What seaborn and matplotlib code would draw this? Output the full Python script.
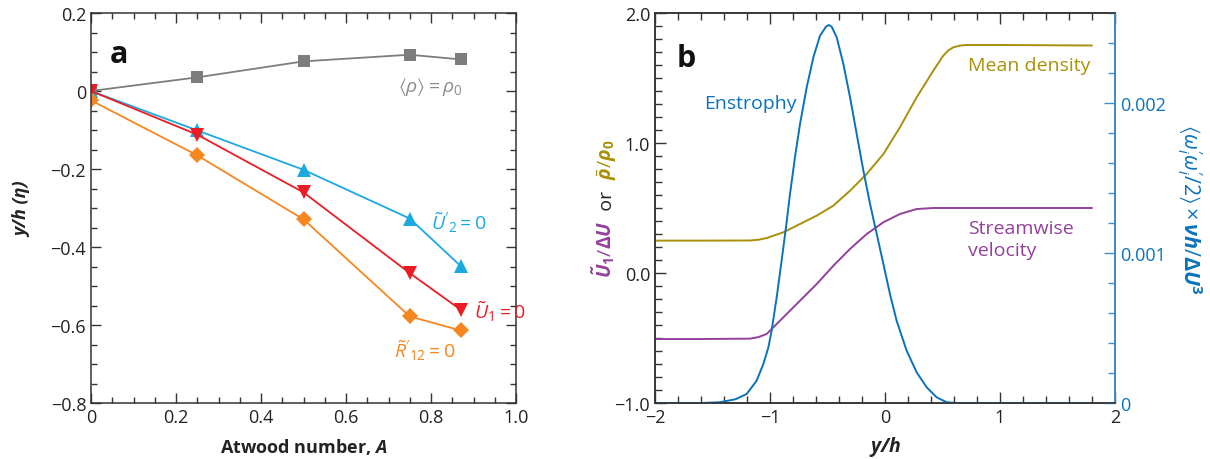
import matplotlib
matplotlib.use("Agg")
import matplotlib.pyplot as plt
from matplotlib.ticker import MultipleLocator, FixedLocator, FixedFormatter
import seaborn as sns

# ---- panel a data ----
atwood = [0.0, 0.25, 0.5, 0.75, 0.87]
rho_mean = [0.0, 0.035, 0.076, 0.093, 0.081]
u2_zero = [0.0, -0.101, -0.202, -0.327, -0.449]
u1_zero = [0.0, -0.112, -0.260, -0.467, -0.561]
r12_zero = [-0.024, -0.165, -0.329, -0.578, -0.614]

a_xticks = [0.0, 0.2, 0.4, 0.6, 0.8, 1.0]
a_xticklabels = ["0", "0.2", "0.4", "0.6", "0.8", "1.0"]
a_yticks = [-0.8, -0.6, -0.4, -0.2, 0.0, 0.2]
a_yticklabels = ["\u22120.8", "\u22120.6", "\u22120.4", "\u22120.2", "0", "0.2"]

# ---- panel b data ----
prof_y = [-2.0, -1.609, -1.174, -1.1, -1.029, -0.884, -0.739, -0.594, -0.449, -0.304,
          -0.159, -0.014, 0.13, 0.275, 0.42, 0.507, 0.55, 0.594, 0.65, 0.71, 1.0, 1.8]
density = [0.249, 0.249, 0.25, 0.256, 0.269, 0.313, 0.377, 0.441, 0.518, 0.633,
           0.762, 0.915, 1.121, 1.351, 1.556, 1.672, 1.712, 1.736, 1.749, 1.754, 1.754, 1.75]
velocity = [-0.508, -0.508, -0.505, -0.493, -0.469, -0.341, -0.213, -0.085, 0.056, 0.185,
            0.3, 0.39, 0.454, 0.492, 0.5, 0.5, 0.5, 0.5, 0.5, 0.5, 0.5, 0.5]

ens_y = [-2.0, -1.6, -1.435, -1.3, -1.203, -1.116, -1.058, -1.014, -0.986, -0.942,
         -0.899, -0.861, -0.826, -0.783, -0.739, -0.681, -0.623, -0.565, -0.513, -0.488,
         -0.464, -0.42, -0.362, -0.304, -0.246, -0.188, -0.13, -0.072, -0.014, 0.043,
         0.101, 0.188, 0.275, 0.362, 0.449, 0.536, 0.62, 1.0, 1.8]
enstrophy = [0.0, 0.0, 0.005, 0.025, 0.06, 0.149, 0.26, 0.371, 0.482, 0.704,
             0.949, 1.171, 1.393, 1.638, 1.86, 2.104, 2.304, 2.449, 2.509, 2.52,
             2.509, 2.438, 2.26, 2.038, 1.793, 1.549, 1.327, 1.127, 0.927, 0.727,
             0.549, 0.349, 0.205, 0.105, 0.038, 0.005, 0.0, 0.0, 0.0]
enstrophy = [v * 1e-3 for v in enstrophy]

b_xticks = [-2, -1, 0, 1, 2]
b_xticklabels = ["\u22122", "\u22121", "0", "1", "2"]
b_yticks = [-1.0, 0.0, 1.0, 2.0]
b_yticklabels = ["\u22121.0", "0.0", "1.0", "2.0"]
b_rticks = [0.0, 0.001, 0.002]
b_rticklabels = ["0", "0.001", "0.002"]

GRAY = "#7d7d7d"
CYAN = "#1ba9e1"
RED = "#ec1c24"
ORANGE = "#f6861f"
OLIVE = "#a89008"
PURPLE = "#93409a"
BLUE = "#0a72ba"

sns.set_theme(style="ticks")
plt.rcParams["font.family"] = ["Open Sans", "DejaVu Sans"]
plt.rcParams["mathtext.fontset"] = "custom"
plt.rcParams["mathtext.rm"] = "Open Sans"
plt.rcParams["mathtext.it"] = "Open Sans:italic"
plt.rcParams["mathtext.bf"] = "Open Sans:bold"
plt.rcParams["mathtext.bfit"] = "Open Sans:italic:bold"
plt.rcParams["mathtext.fallback"] = "stixsans"
plt.rcParams["axes.linewidth"] = 1.1
plt.rcParams["axes.edgecolor"] = "#333333"

fig = plt.figure(figsize=(12.1, 4.6), dpi=100)
ax = fig.add_axes([91 / 1210, 56 / 460, 425 / 1210, 390 / 460])
bx = fig.add_axes([655 / 1210, 56 / 460, 460 / 1210, 390 / 460])

# ---------------- panel a ----------------
series = [(rho_mean, GRAY, "s", 8.5), (u2_zero, CYAN, "^", 9.5),
          (u1_zero, RED, "v", 9.5), (r12_zero, ORANGE, "D", 8)]
for vals, col, mk, ms in series:
    sns.lineplot(x=atwood, y=vals, ax=ax, color=col, marker=mk, markersize=ms,
                 markeredgewidth=0, markeredgecolor=col, linewidth=1.3)

ax.set_xlim(0, 1)
ax.set_ylim(-0.8, 0.2)
ax.xaxis.set_major_locator(FixedLocator(a_xticks))
ax.xaxis.set_major_formatter(FixedFormatter(a_xticklabels))
ax.yaxis.set_major_locator(FixedLocator(a_yticks))
ax.yaxis.set_major_formatter(FixedFormatter(a_yticklabels))
ax.xaxis.set_minor_locator(MultipleLocator(0.05))
ax.yaxis.set_minor_locator(MultipleLocator(0.05))
ax.tick_params(which="both", direction="in", top=True, right=True,
               colors="#333333", labelcolor="#222222", labelsize=13, width=1.0)
ax.tick_params(which="major", length=7)
ax.tick_params(which="minor", length=4.5)

ax.text(0.045, 0.895, "a", transform=ax.transAxes, fontsize=22, fontweight="bold",
        va="center", ha="left", color="#111111")
ax.text(0.875, 0.012, r"$\langle\rho\rangle = \rho_0$", color="#8c8c8c", fontsize=14,
        ha="right", va="center")
ax.text(0.80, -0.336, r"$\tilde{U}'_2 = 0$", color=CYAN, fontsize=14, ha="left", va="center")
ax.text(0.90, -0.562, r"$\tilde{U}_1 = 0$", color=RED, fontsize=14, ha="left", va="center")
ax.text(0.712, -0.662, r"$\tilde{R}'_{12} = 0$", color=ORANGE, fontsize=14, ha="left", va="center")

ax.set_xlabel(r"Atwood number, $\mathbfit{A}$", fontsize=13, fontweight="bold", color="#222222")
ax.xaxis.set_label_coords(0.5, -0.085)
fig.text(22 / 1210, 1 - 209 / 460, "y/h (\u03b7)", rotation=90, fontsize=13,
         fontweight="bold", fontstyle="italic", ha="center", va="center", color="#222222")

# ---------------- panel b ----------------
sns.lineplot(x=prof_y, y=density, ax=bx, color=OLIVE, linewidth=1.4)
sns.lineplot(x=prof_y, y=velocity, ax=bx, color=PURPLE, linewidth=1.4)
bx.set_xlim(-2, 2)
bx.set_ylim(-1, 2)

cx = bx.twinx()
sns.lineplot(x=ens_y, y=enstrophy, ax=cx, color=BLUE, linewidth=1.4)
cx.set_ylim(0, 0.0026)
cx.set_ylabel("")

bx.xaxis.set_major_locator(FixedLocator(b_xticks))
bx.xaxis.set_major_formatter(FixedFormatter(b_xticklabels))
bx.yaxis.set_major_locator(FixedLocator(b_yticks))
bx.yaxis.set_major_formatter(FixedFormatter(b_yticklabels))
bx.xaxis.set_minor_locator(MultipleLocator(0.2))
bx.yaxis.set_minor_locator(MultipleLocator(0.1))
bx.tick_params(which="both", direction="in", top=True, right=False,
               colors="#333333", labelcolor="#222222", labelsize=13, width=1.0)
bx.tick_params(which="major", length=8)
bx.tick_params(which="minor", length=5)

cx.yaxis.set_major_locator(FixedLocator(b_rticks))
cx.yaxis.set_major_formatter(FixedFormatter(b_rticklabels))
cx.yaxis.set_minor_locator(MultipleLocator(0.0002))
cx.tick_params(which="both", direction="in", colors="#3b8fd2", labelcolor=BLUE,
               labelsize=13, width=1.0)
cx.tick_params(which="major", length=8)
cx.tick_params(which="minor", length=5)
cx.spines["right"].set_color("#3b8fd2")
cx.spines["right"].set_linewidth(1.3)

bx.text(0.048, 0.885, "b", transform=bx.transAxes, fontsize=22, fontweight="bold",
        va="center", ha="left", color="#111111")
bx.text(-1.57, 1.307, "Enstrophy", color=BLUE, fontsize=14, ha="left", va="center")
bx.text(0.72, 1.60, "Mean density", color=OLIVE, fontsize=14, ha="left", va="center")
bx.text(0.72, 0.26, "Streamwise\nvelocity", color=PURPLE, fontsize=14, ha="left",
        va="center", linespacing=1.25)

bx.set_xlabel(r"$\mathbfit{y/h}$", fontsize=14, color="#222222")
bx.xaxis.set_label_coords(0.5, -0.08)

fig.text(1190 / 1210, 1 - 209 / 460,
         r"$\langle\omega_i^{\prime}\omega_i^{\prime}/2\rangle\times\mathbfit{\nu h}/\mathbf{\Delta}\mathbfit{U}^\mathbf{3}$",
         rotation=270, fontsize=15.5, color=BLUE, ha="center", va="center")

# multi-coloured left label of panel b, stacked bottom to top
parts = [(r"$\mathbfit{\tilde{U}}_\mathbf{1}/\mathbf{\Delta}\mathbfit{U}$", PURPLE),
         ("  or  ", "#222222"),
         (r"$\bar{\mathbfit{\rho}}/\mathbfit{\rho}_\mathbf{0}$", OLIVE)]
x_lab = 612 / 1210
texts = [fig.text(x_lab, 0.5, s, rotation=90, rotation_mode="anchor", color=c,
                  fontsize=14, ha="left", va="baseline") for s, c in parts]
fig.canvas.draw()
rend = fig.canvas.get_renderer()
sizes = [t.get_window_extent(rend).height for t in texts]
start = (460 - 209) - sum(sizes) / 2
for t, h in zip(texts, sizes):
    t.set_position((x_lab, start / 460))
    start += h

fig.savefig("out.png", dpi=100)
